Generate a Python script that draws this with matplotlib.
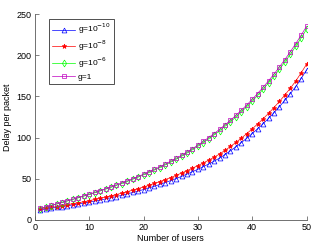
import matplotlib
matplotlib.use("Agg")
import matplotlib.pyplot as plt
import numpy as np

plt.rcParams['font.family'] = ['Liberation Sans', 'DejaVu Sans']

users = np.arange(1, 51)

delay_g1e10 = [12.4, 13.2, 14.2, 15.2, 16.1, 17.2, 18.3, 19.4, 20.4, 21.6,
               22.9, 24.1, 25.5, 26.9, 28.3, 29.9, 31.6, 33.3, 35.0, 36.9,
               38.9, 40.9, 43.1, 45.4, 47.7, 50.2, 52.9, 55.7, 58.5, 61.5,
               64.7, 67.9, 71.4, 75.1, 79.4, 84.0, 88.8, 93.9, 99.2, 104.8,
               110.7, 116.8, 123.3, 130.2, 137.4, 145.1, 153.2, 161.8, 171.6, 182.0]
delay_g1e8 = [13.0, 14.0, 15.1, 16.2, 17.3, 18.5, 19.7, 20.9, 22.1, 23.4,
              24.8, 26.2, 27.7, 29.2, 30.8, 32.5, 34.3, 36.1, 38.0, 40.0,
              42.1, 44.3, 46.6, 49.0, 51.5, 54.1, 56.9, 59.8, 62.8, 65.9,
              69.2, 72.6, 76.2, 80.0, 84.5, 89.2, 94.1, 99.3, 104.8, 110.5,
              116.5, 122.8, 129.4, 136.4, 143.8, 151.6, 159.8, 168.5, 178.5, 189.0]
delay_g1e6 = [13.8, 15.6, 17.4, 19.2, 21.1, 23.0, 24.9, 26.8, 28.8, 30.8,
              32.9, 35.1, 37.3, 39.5, 41.9, 44.2, 46.7, 49.3, 51.9, 54.7,
              57.5, 60.5, 63.5, 66.8, 70.1, 73.7, 77.3, 81.2, 85.2, 89.4,
              93.9, 98.5, 103.3, 108.3, 113.7, 119.2, 125.0, 131.1, 137.5, 144.2,
              151.2, 158.6, 166.3, 174.3, 182.8, 191.7, 200.9, 210.7, 220.8, 231.5]
delay_g1 = [14.0, 15.8, 17.6, 19.5, 21.4, 23.3, 25.2, 27.2, 29.2, 31.3,
            33.4, 35.6, 37.8, 40.1, 42.5, 44.9, 47.4, 50.0, 52.7, 55.5,
            58.4, 61.4, 64.5, 67.8, 71.2, 74.8, 78.5, 82.4, 86.5, 90.8,
            95.3, 100.0, 104.9, 110.0, 115.4, 121.0, 126.9, 133.1, 139.6, 146.4,
            153.5, 161.0, 168.8, 177.0, 185.6, 194.6, 204.0, 213.9, 224.2, 235.0]

labels = ['g=10$^{-10}$', 'g=10$^{-8}$', 'g=10$^{-6}$', 'g=1']

fig = plt.figure(figsize=(3.17, 2.46), dpi=100)
ax = fig.add_axes([0.110, 0.106, 0.857, 0.837])

style = dict(lw=0.5, ms=3.5, mew=0.5)
ax.plot(users, delay_g1e10, '-^', color='b', mfc='none', label=labels[0], **style)
ax.plot(users, delay_g1e8, '-*', color='r', label=labels[1], **style)
ax.plot(users, delay_g1e6, '-d', color='#00ff00', mfc='none', label=labels[2], **style)
ax.plot(users, delay_g1, '-s', color='m', mfc='none', label=labels[3], **style)

ax.set_xlim(0, 50)
ax.set_ylim(0, 250)
ax.set_xticks([0, 10, 20, 30, 40, 50])
ax.set_yticks([0, 50, 100, 150, 200, 250])
ax.tick_params(direction='in', length=3, width=0.5, labelsize=6.5, color='0.3', pad=2.5)
for s in ['top', 'right']:
    ax.spines[s].set_visible(False)
for s in ['left', 'bottom']:
    ax.spines[s].set_linewidth(0.6)
    ax.spines[s].set_color('0.35')

ax.set_xlabel('Number of users', fontsize=6.5, labelpad=1)
ax.set_ylabel('Delay per packet', fontsize=6.5, labelpad=3)

leg = ax.legend(loc='upper left', bbox_to_anchor=(0.052, 0.975), fontsize=6, fancybox=False,
                framealpha=1, edgecolor='0.2', handlelength=2.8, borderpad=0.35,
                labelspacing=0.3, handletextpad=0.3, borderaxespad=0)
leg.get_frame().set_linewidth(0.6)

fig.savefig('out.png', dpi=100)
